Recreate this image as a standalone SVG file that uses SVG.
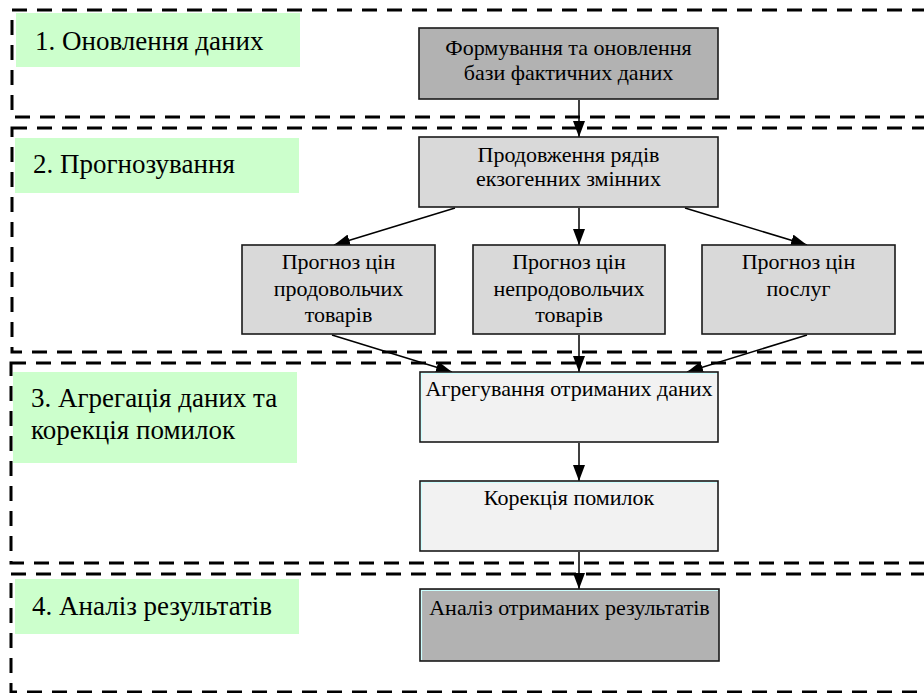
<svg xmlns="http://www.w3.org/2000/svg" width="924" height="693" viewBox="0 0 924 693">
<style>
.sec{fill:none;stroke:#000;stroke-width:3;stroke-dasharray:15 10}
.lab{fill:#ccffcc}
.labt{font-family:'Liberation Serif','DejaVu Serif','Times New Roman',serif;font-size:27px;fill:#000}
.box{stroke:#1a1a1a;stroke-width:1.6}
.dark{fill:#b2b2b2}
.mid{fill:#d9d9d9}
.light{fill:#f2f2f2}
.cy{fill:none;stroke:#ccffff;stroke-width:1.2}
.t{font-family:'Liberation Serif','DejaVu Serif','Times New Roman',serif;font-size:22px;fill:#000;text-anchor:middle}
.con{stroke:#000;stroke-width:1.5;fill:none;marker-end:url(#ah)}
</style>
<defs>
<marker id="ah" markerUnits="userSpaceOnUse" markerWidth="16" markerHeight="12" refX="16" refY="6" orient="auto">
<path d="M0,0 L16,6 L0,12 Z" fill="#000"/>
</marker>
</defs>
<rect width="924" height="693" fill="#fff"/>
<g id="sections">
<rect class="sec" x="12" y="10" width="918" height="107"/>
<rect class="sec" x="12" y="128" width="918" height="224"/>
<rect class="sec" x="11" y="363" width="919" height="200"/>
<rect class="sec" x="11" y="574" width="919" height="118"/>
</g>
<g id="label1">
<rect class="lab" x="16" y="13" width="284" height="54"/>
<text class="labt" x="35" y="50" font-family="Liberation Serif, serif">1. Оновлення даних</text>
</g>
<g id="label2">
<rect class="lab" x="15" y="138" width="284" height="55"/>
<text class="labt" x="33" y="173">2. Прогнозування</text>
</g>
<g id="label3">
<rect class="lab" x="13" y="372" width="284" height="91"/>
<text class="labt" x="31" y="407">3. Агрегація даних та</text>
<text class="labt" x="31" y="439">корекція помилок</text>
</g>
<g id="label4">
<rect class="lab" x="15" y="579" width="284" height="55"/>
<text class="labt" x="32" y="615">4. Аналіз результатів</text>
</g>
<g id="connectors">
<line class="con" x1="579" y1="100" x2="579" y2="137"/>
<line class="con" x1="455" y1="208" x2="334" y2="245"/>
<line class="con" x1="579" y1="208" x2="579" y2="245"/>
<line class="con" x1="685" y1="208" x2="807" y2="245"/>
<line class="con" x1="332" y1="335" x2="452" y2="372"/>
<line class="con" x1="579" y1="335" x2="579" y2="372"/>
<line class="con" x1="807" y1="335" x2="687" y2="372"/>
<line class="con" x1="579" y1="443" x2="579" y2="481"/>
<line class="con" x1="579" y1="552" x2="579" y2="589"/>
</g>
<g id="nodeA">
<rect class="box dark" x="419" y="28" width="299" height="71"/>
<text class="t" x="568.5" y="55">Формування та оновлення</text>
<text class="t" x="568.5" y="80">бази фактичних даних</text>
</g>
<g id="nodeB">
<rect class="box mid" x="419" y="137" width="299" height="70"/>
<text class="t" x="568.5" y="162">Продовження рядів</text>
<text class="t" x="568.5" y="186">екзогенних змінних</text>
</g>
<g id="nodeC1">
<rect class="box mid" x="242" y="245" width="193" height="89"/>
<text class="t" x="338.5" y="269">Прогноз цін</text>
<text class="t" x="338.5" y="296">продовольчих</text>
<text class="t" x="338.5" y="322">товарів</text>
</g>
<g id="nodeC2">
<rect class="box mid" x="473" y="245" width="192" height="89"/>
<text class="t" x="569" y="269">Прогноз цін</text>
<text class="t" x="569" y="296">непродовольчих</text>
<text class="t" x="569" y="322">товарів</text>
</g>
<g id="nodeC3">
<rect class="box mid" x="702" y="245" width="193" height="89"/>
<text class="t" x="798.5" y="269">Прогноз цін</text>
<text class="t" x="798.5" y="296">послуг</text>
</g>
<g id="nodeD">
<rect class="box light" x="420" y="372" width="298" height="70"/>
<path class="cy" d="M421.5,441 V373.5 H717"/>
<text class="t" x="569" y="396">Агрегування отриманих даних</text>
</g>
<g id="nodeE">
<rect class="box light" x="420" y="481" width="298" height="70"/>
<path class="cy" d="M421.5,550 V482.5 H717"/>
<text class="t" x="569" y="505">Корекція помилок</text>
</g>
<g id="nodeF">
<rect class="box dark" x="420" y="589" width="299" height="72"/>
<path class="cy" d="M421.5,660 V590.5 H718"/>
<text class="t" x="569.5" y="615">Аналіз отриманих результатів</text>
</g>
</svg>
